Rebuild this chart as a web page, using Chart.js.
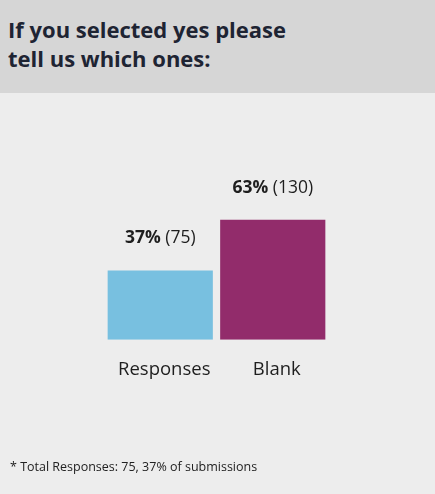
<!DOCTYPE html>
<html>
<head>
<meta charset="utf-8">
<script src="https://cdn.jsdelivr.net/npm/chart.js@4/dist/chart.umd.min.js"></script>
<style>
    html, body { margin: 0; padding: 0; }
    body {
        width: 435px;
        height: 494px;
        background: #ededed;
        position: relative;
        overflow: hidden;
        font-family: "Open Sans", sans-serif;
    }
    .header {
        position: absolute;
        left: 0; top: 0;
        width: 435px;
        height: 93px;
        background: #d6d6d6;
    }
    .header h1 {
        margin: 0;
        position: absolute;
        left: 8px; top: 15px;
        font-size: 22px;
        line-height: 29px;
        font-weight: 700;
        color: #1e2433;
        white-space: nowrap;
    }
    .note {
        position: absolute;
        left: 10px; top: 458px;
        font-size: 12.5px;
        line-height: 17px;
        color: #222;
        white-space: nowrap;
    }
    #chart {
        position: absolute;
        left: 0; top: 0;
    }
</style>
</head>
<body>
<div class="header"><h1>If you selected yes please<br>tell us which ones:</h1></div>
<canvas id="chart" width="435" height="494"></canvas>
<div class="note">* Total Responses: 75, 37% of submissions</div>

<script>
const CATEGORIES = ["Responses", "Blank"];
const COUNTS     = [75, 130];
const PERCENTS   = [37, 63];
const COLORS     = ["#78c0e0", "#922c6b"];

// 棒の上に「37% (75)」形式のラベルを描く
const valueLabels = {
    id: 'valueLabels',
    afterDatasetsDraw(chart) {
        const ctx  = chart.ctx;
        const meta = chart.getDatasetMeta(0);
        ctx.save();
        ctx.textBaseline = 'middle';
        meta.data.forEach((bar, i) => {
            const bold   = PERCENTS[i] + '%';
            const normal = ' (' + COUNTS[i] + ')';
            ctx.font = 'bold 17.5px "Open Sans", sans-serif';
            const w1 = ctx.measureText(bold).width;
            ctx.font = '17.5px "Open Sans", sans-serif';
            const w2 = ctx.measureText(normal).width;
            let x = bar.x - (w1 + w2) / 2;
            const y = bar.y - 32;
            ctx.fillStyle = '#1e1e1e';
            ctx.font = 'bold 17.5px "Open Sans", sans-serif';
            ctx.fillText(bold, x, y);
            ctx.font = '17.5px "Open Sans", sans-serif';
            ctx.fillText(normal, x + w1, y);
        });
        ctx.restore();
    }
};

const config = {
    type: 'bar',
    data: {
        labels: CATEGORIES,
        datasets: [{
            data: COUNTS,
            backgroundColor: COLORS,
            borderWidth: 0,
            barPercentage: 0.935,
            categoryPercentage: 1.0,
        }]
    },
    options: {
        responsive: false,
        animation: false,
        layout: {
            padding: { left: 104, right: 106, top: 155, bottom: 94 }
        },
        plugins: {
            legend: { display: false },
            tooltip: { enabled: false },
        },
        scales: {
            x: {
                grid: { display: false, drawTicks: false },
                border: { display: false },
                ticks: {
                    color: '#1e1e1e',
                    font: { family: '"Open Sans", sans-serif', size: 18.5 },
                    padding: 19,
                    labelOffset: 4,
                }
            },
            y: {
                display: false,
                min: 0,
                max: 200,
            }
        }
    },
    plugins: [valueLabels]
};

new Chart(document.getElementById('chart'), config);
</script>
</body>
</html>
